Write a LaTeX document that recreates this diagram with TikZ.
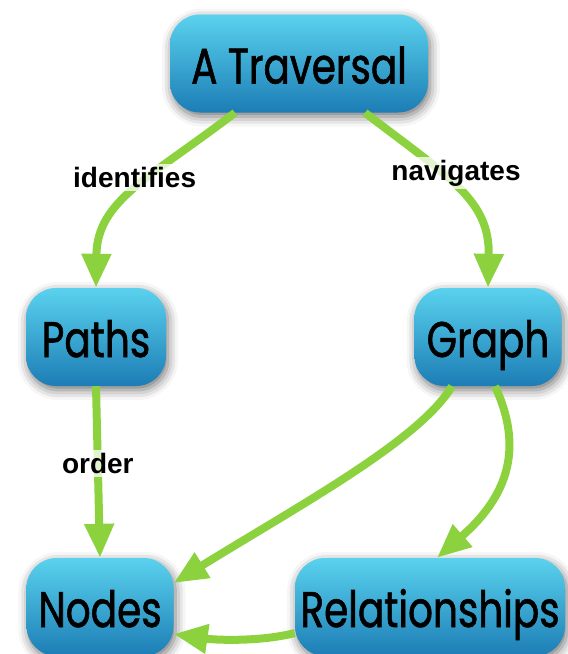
\documentclass[tikz,border=0pt]{standalone}
\usepackage{fontspec}
\setmainfont{Poppins}[FakeStretch=0.78,FakeBold=1.2]
\newfontfamily\lblfont{Liberation Sans}
\usetikzlibrary{arrows.meta,shadows.blur,calc}
\definecolor{boxtop}{HTML}{5AD2EE}
\definecolor{boxbot}{HTML}{1C7DB5}
\definecolor{arrowgreen}{HTML}{8CD13E}
\tikzset{
  box/.style={rounded corners=30pt, top color=boxtop, bottom color=boxbot,
    minimum height=98pt, inner sep=0pt, text height=40pt, text depth=0pt,
    font=\fontsize{50}{50}\selectfont,
    blur shadow={shadow xshift=2pt,shadow yshift=-4pt,shadow blur radius=10pt,shadow opacity=55}},
  conn/.style={draw=arrowgreen, line width=8pt, -{Triangle[length=34pt,width=28pt]}},
  lbl/.style={font=\lblfont\bfseries\fontsize{28}{28}\selectfont, fill=white,
    fill opacity=0.75, text opacity=1, inner sep=3pt}
}
\begin{document}
\begin{tikzpicture}[x=1pt,y=-1pt]
\useasboundingbox (0,0) rectangle (568,654);
\node[box, minimum width=258pt] (trav) at (299,63.5) {A Traversal};
\node[box, minimum width=140pt] (paths) at (96,337) {Paths};
\node[box, minimum width=147pt] (graph) at (488,337) {Graph};
\node[box, minimum width=147pt] (nodes) at (100,607) {Nodes};
\node[box, minimum width=270pt] (rel) at (430,607) {Relationships};

\draw[conn] ([xshift=-64pt]trav.south) .. controls (150,178) and (97,200) .. (paths.north)
  node[lbl, pos=0.4, xshift=-15pt] {identifies};
\draw[conn] ([xshift=66pt]trav.south) .. controls (450,178) and (490,200) .. (graph.north)
  node[lbl, pos=0.37, xshift=15pt] {navigates};
\draw[conn] (paths.south) -- (nodes.north) node[lbl, pos=0.45] {order};
\draw[conn] ([xshift=-36pt]graph.south) .. controls (420,440) and (300,505) .. ([yshift=24pt]nodes.east);
\draw[conn] ([xshift=7pt]graph.south) .. controls (520,440) and (515,490) .. ([xshift=7pt]rel.north);
\draw[conn] ([yshift=-26pt]rel.west) .. controls (260,642) and (215,640) .. ([yshift=-27pt]nodes.east);
\end{tikzpicture}
\end{document}
